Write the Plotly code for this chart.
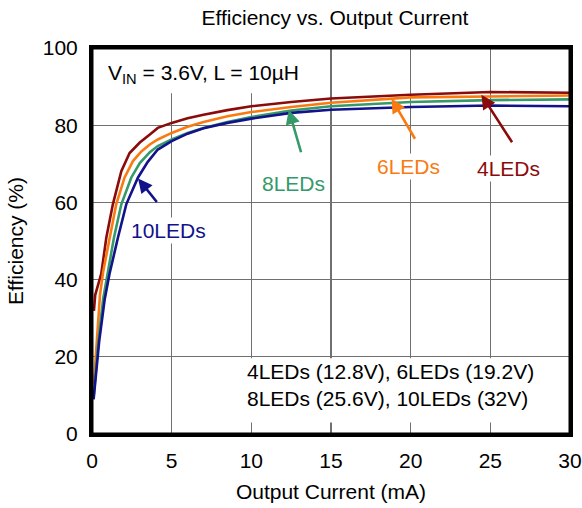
import plotly.graph_objects as go

# ---- data ----
x_4led = [0.12, 0.2, 0.58, 0.9, 1.31, 1.84, 2.36, 3.0, 3.63, 4.13, 5, 6, 7, 8.5, 10, 12.5, 15, 20, 25, 30]
y_4led = [31.9, 36.0, 41.5, 50.9, 59.5, 68.1, 72.8, 75.5, 77.6, 79.3, 80.6, 81.8, 82.7, 83.9, 84.9, 86.0, 86.9, 87.9, 88.6, 88.4]

x_6led = [0.12, 0.2, 0.35, 0.5, 0.7, 1.1, 1.52, 2.04, 2.57, 3.1, 3.63, 4.13, 5, 6, 7, 8.5, 10, 12.5, 15, 20, 25, 30]
y_6led = [13.0, 18.0, 28.0, 36.0, 42.0, 50.9, 59.5, 66.4, 70.7, 73.2, 75.0, 76.3, 78.0, 79.6, 80.8, 82.3, 83.4, 84.7, 85.8, 87.2, 87.5, 87.7]

x_8led = [0.1, 0.2, 0.4, 0.7, 0.96, 1.38, 1.84, 2.46, 3.0, 3.63, 4.13, 5, 6, 7, 8.5, 10, 12.5, 15, 20, 25, 30]
y_8led = [9.5, 14.0, 24.0, 35.0, 41.5, 50.9, 59.5, 66.4, 70.2, 73.0, 74.6, 76.3, 78.0, 79.3, 80.8, 82.1, 83.8, 84.9, 86.0, 86.5, 86.7]

x_10led = [0.1, 0.2, 0.45, 0.8, 1.1, 1.63, 2.15, 2.88, 3.5, 4.13, 5, 6, 7, 8.5, 10, 12.5, 15, 20, 25, 30]
y_10led = [9.0, 13.0, 24.0, 35.0, 41.5, 50.9, 59.5, 66.4, 70.5, 73.7, 75.9, 77.8, 79.2, 80.6, 81.7, 83.2, 84.0, 84.7, 85.1, 84.9]

series_names = ["4LEDs", "6LEDs", "8LEDs", "10LEDs"]
series_colors = ["#8B0A0A", "#FA7A12", "#35996A", "#12128A"]

x_ticks = [0, 5, 10, 15, 20, 25, 30]
y_ticks = [0, 20, 40, 60, 80, 100]

FONT = "Liberation Sans, Arial, Helvetica, sans-serif"
FS = 21

fig = go.Figure()
for name, xs, ys, col in zip(series_names,
                             [x_4led, x_6led, x_8led, x_10led],
                             [y_4led, y_6led, y_8led, y_10led],
                             series_colors):
    fig.add_trace(go.Scatter(x=xs, y=ys, mode="lines", name=name,
                             line=dict(color=col, width=2.6), showlegend=False))

# white masks (between gridlines and traces)
fig.add_shape(type="rect", xref="x", yref="y", x0=0, x1=13.6, y0=88.3, y1=100,
              fillcolor="white", line_width=0, layer="between")
fig.add_shape(type="rect", xref="x", yref="y", x0=9.3, x1=30, y0=3.0, y1=19.6,
              fillcolor="white", line_width=0, layer="between")
# plot frame
fig.add_shape(type="rect", xref="paper", yref="paper", x0=0, x1=1, y0=0, y1=1,
              line=dict(color="black", width=3), fillcolor="rgba(0,0,0,0)",
              layer="above")

# arrows (head at data point, tail offset in pixels)
arrow_specs = [
    (24.44, 87.9, 31.6, 49, series_colors[0]),
    (18.8, 86.9, 24.3, 41.7, series_colors[1]),
    (12.35, 84.0, 12.7, 44, series_colors[2]),
    (2.89, 66.2, 20, 25, series_colors[3]),
]
for hx, hy, ax, ay, col in arrow_specs:
    fig.add_annotation(x=hx, y=hy, ax=ax, ay=ay, xref="x", yref="y",
                       text="", showarrow=True, arrowhead=2, arrowsize=1.1,
                       arrowwidth=2.6, arrowcolor=col, standoff=0)

# series labels
label_pos = [(26.11, 68.9), (19.84, 69.2), (12.66, 64.9), (4.81, 52.7)]
for (lx, ly), name, col in zip(label_pos, series_names, series_colors):
    fig.add_annotation(x=lx, y=ly, xref="x", yref="y", text=name, showarrow=False,
                       font=dict(family=FONT, size=FS, color=col),
                       bgcolor="white", borderpad=1)

fig.add_annotation(x=0.9, y=93.3, xref="x", yref="y", xanchor="left",
                   text="V<sub>IN</sub> = 3.6V, L = 10µH", showarrow=False,
                   font=dict(family=FONT, size=FS, color="black"))

fig.add_annotation(x=9.6, y=12.6, xref="x", yref="y", xanchor="left",
                   text="4LEDs (12.8V), 6LEDs (19.2V)<br>8LEDs (25.6V), 10LEDs (32V)",
                   align="left", showarrow=False,
                   font=dict(family=FONT, size=FS, color="black"))

W, H = 582, 508
fig.update_layout(
    width=W, height=H,
    margin=dict(l=92, r=12, t=48, b=74, autoexpand=False),
    paper_bgcolor="white", plot_bgcolor="white",
    font=dict(family=FONT, size=FS, color="black"),
    title=dict(text="Efficiency vs. Output Current", x=335 / W, xref="container",
               xanchor="center", y=1 - 18 / H, yref="container", yanchor="middle",
               automargin=False,
               font=dict(family=FONT, size=FS, color="black")),
)
fig.update_xaxes(range=[0, 30], tickvals=x_ticks, ticktext=[str(v) for v in x_ticks],
                 showgrid=True, gridcolor="#707070", gridwidth=1.2,
                 showline=True, linecolor="black", linewidth=3, mirror=True,
                 ticks="", zeroline=False, ticklabelstandoff=6, automargin=False,
                 title=dict(text="Output Current (mA)", standoff=14,
                            font=dict(family=FONT, size=FS)))
fig.update_yaxes(range=[0, 100], tickvals=y_ticks, ticktext=[str(v) for v in y_ticks],
                 showgrid=True, gridcolor="#707070", gridwidth=1.2,
                 showline=True, linecolor="black", linewidth=3, mirror=True,
                 ticks="", zeroline=False, ticklabelstandoff=7, automargin=False,
                 title=dict(text="Efficiency (%)", standoff=14,
                            font=dict(family=FONT, size=FS)))

fig.write_html("out.html",
               config={"displayModeBar": False, "staticPlot": True},
               post_script="document.body.style.margin='0';"
                           "document.body.style.overflow='hidden';")
